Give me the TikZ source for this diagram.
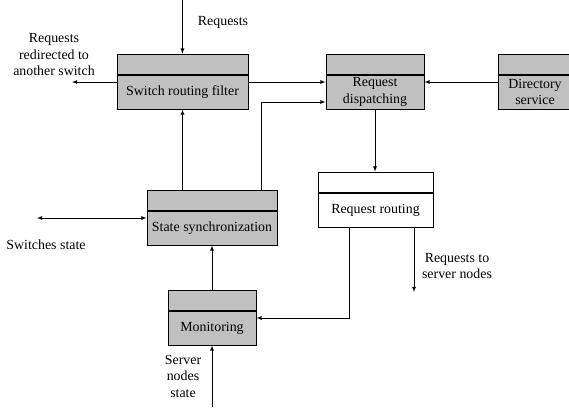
\documentclass[tikz,border=0pt]{standalone}
\usepackage{fontspec}
\setmainfont{Liberation Serif}
\usepackage{xcolor}
\definecolor{boxgray}{RGB}{192,192,192}

\tikzset{
  body/.style={draw, fill=boxgray, line width=0.9pt, minimum height=34pt, inner sep=0pt, align=center},
  head/.style={draw, fill=boxgray, line width=0.9pt, minimum height=20pt, inner sep=0pt, anchor=south},
  twolines/.style={inner ysep=-4pt},
  flow/.style={->, >=latex, line width=0.8pt},
}

\begin{document}
\begin{tikzpicture}[x=1pt, y=-1pt, font=\fontsize{13.9}{16.5}\selectfont]
  \useasboundingbox (0,0) rectangle (569,407);
  \clip (0,0) rectangle (569,407);

% modules
\node[body, minimum width=131pt] (filter) at (182.5,92) {Switch routing filter};
\node[head, minimum width=131pt] (filter-top) at (filter.north) {};

\node[body, twolines, minimum width=98pt] (dispatch) at (375,92) {Request\\dispatching};
\node[head, minimum width=98pt] (dispatch-top) at (dispatch.north) {};

\node[body, twolines, minimum width=74pt] (directory) at (535,92) {Directory\\service};
\node[head, minimum width=74pt] (directory-top) at (directory.north) {};

\node[body, fill=white, minimum width=115pt] (routing) at (375.5,210) {Request routing};
\node[head, fill=white, minimum width=115pt] (routing-top) at (routing.north) {};

\node[body, minimum width=130pt] (sync) at (212,228) {State synchronization};
\node[head, minimum width=130pt] (sync-top) at (sync.north) {};

\node[body, minimum width=88pt] (monitor) at (212,328) {Monitoring};
\node[head, minimum width=88pt] (monitor-top) at (monitor.north) {};

% free ends
\coordinate (req-in) at (182.5,0);
\coordinate (redirect) at (72,82);
\coordinate (to-servers) at (414,292);
\coordinate (sw-state) at (37,218);
\coordinate (srv-state) at (212,407);

% connectors
\draw[flow] (req-in) -- (filter-top.north);
\draw[flow] ([yshift=10pt]filter.west) -- (redirect);
\draw[flow] ([yshift=10pt]filter.east) -- ([yshift=10pt]dispatch.west);
\draw[flow] ([xshift=49pt]sync-top.north) |- ([yshift=-10pt]dispatch.west);
\draw[flow] ([yshift=10pt]directory.west) -- ([yshift=10pt]dispatch.east);
\draw[flow] (dispatch.south) -- (dispatch.south |- routing-top.north);
\draw[flow] (sync-top.north -| filter.south) -- (filter.south);
\draw[flow] (routing.south -| to-servers) -- (to-servers);
\draw[flow] ([xshift=-26.5pt]routing.south) |- ([yshift=10pt]monitor.east);
\draw[flow, <->] (sw-state) -- (sync.west |- sw-state);
\draw[flow] (monitor-top.north) -- (sync.south);
\draw[flow] (srv-state) -- (monitor.south);

% labels
\node (req-label) at (223,22) {Requests};
\node[align=center] (redirect-label) at (54,55) {Requests\\redirected to\\another switch};
\node (sw-state-label) at (46,245) {Switches state};
\node[align=center] (servers-label) at (457,266) {Requests to\\server nodes};
\node[align=center] (srv-state-label) at (183,376) {Server\\nodes\\state};
\end{tikzpicture}
\end{document}
